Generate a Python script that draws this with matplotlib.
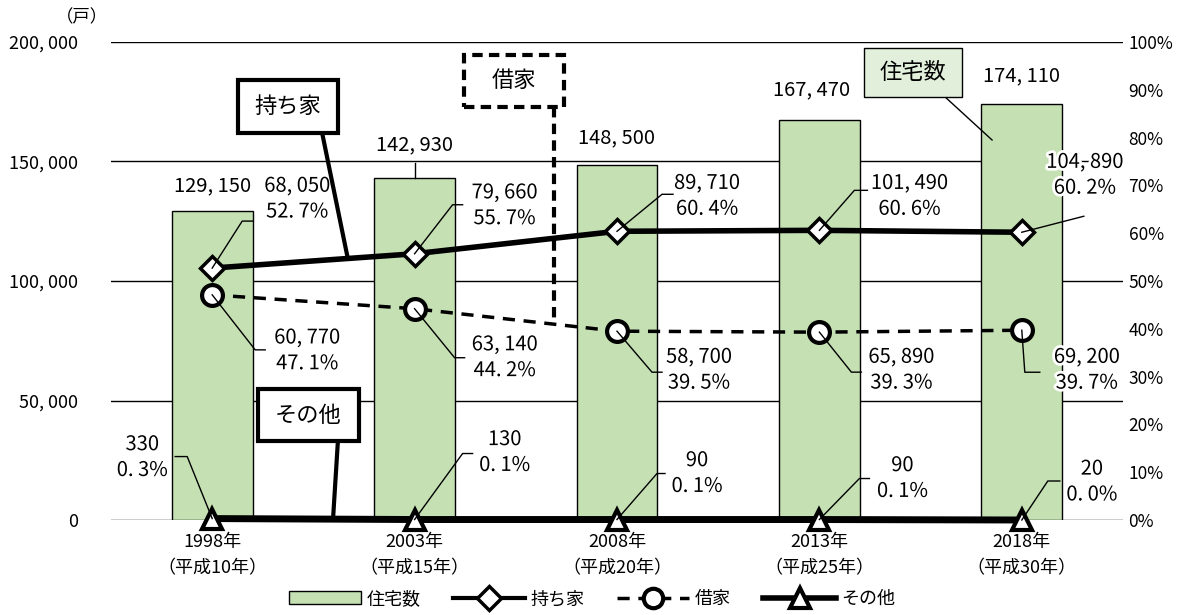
import numpy as np
import matplotlib
matplotlib.use('Agg')
import matplotlib.pyplot as plt
import matplotlib.patheffects as pe
import matplotlib.transforms as mtransforms
from matplotlib.lines import Line2D
from matplotlib.patches import Patch, Rectangle

plt.rcParams['font.family'] = ['Noto Sans CJK JP', 'DejaVu Sans']

# housing survey figures
years = ['1998年\n（平成10年）', '2003年\n（平成15年）', '2008年\n（平成20年）',
         '2013年\n（平成25年）', '2018年\n（平成30年）']
total = [129150, 142930, 148500, 167470, 174110]
owned = [68050, 79660, 89710, 101490, 104890]
owned_pct = [52.7, 55.7, 60.4, 60.6, 60.2]
rented = [60770, 63140, 58700, 65890, 69200]
rented_pct = [47.1, 44.2, 39.5, 39.3, 39.7]
other = [330, 130, 90, 90, 20]
other_pct = [0.3, 0.1, 0.1, 0.1, 0.0]

bar_color = '#c5e0b3'
x = np.arange(len(years))


def fmt_num(v):
    return '{:,}'.format(v).replace(',', ', ')


def fmt_pct(p):
    return '{:.1f}%'.format(p).replace('.', '. ')


halo = [pe.withStroke(linewidth=4, foreground='white')]

fig = plt.figure(figsize=(11.84, 6.15), dpi=100)
ax = fig.add_axes([111 / 1184, 95 / 615, 1012 / 1184, 478 / 615])
ax2 = ax.twinx()

ax.set_xlim(-0.5, 4.5)
ax.set_ylim(0, 200000)
ax2.set_ylim(0, 100)
for a in (ax, ax2):
    for s in a.spines.values():
        s.set_visible(False)

# horizontal grid, drawn behind the bars
for v in range(0, 200001, 50000):
    ax.axhline(v, color='black', lw=1, zorder=0)

ax.bar(x, total, width=0.4, color=bar_color, edgecolor='black', lw=1, zorder=2)

ax.set_xticks(x)
ax.set_xticklabels(years, fontsize=13, linespacing=1.65)
ax.set_yticks(range(0, 200001, 50000))
ax.set_yticklabels([fmt_num(v) for v in range(0, 200001, 50000)], fontsize=13)
ax.tick_params(axis='y', length=0, pad=24)
ax.tick_params(axis='x', length=0, pad=9)
ax2.set_yticks(range(0, 101, 10))
ax2.set_yticklabels(['{}%'.format(v) for v in range(0, 101, 10)], fontsize=12.5)
ax2.tick_params(axis='y', length=0, pad=4)

# totals above the bars
bar_off = [(0, 26), (0, 34), (0, 27), (-8, 30), (0, 28)]
for i, v in enumerate(total):
    ax.annotate(fmt_num(v), xy=(i, v), xytext=bar_off[i], textcoords='offset pixels',
                ha='center', va='center', fontsize=14.5, zorder=5)
ax.plot([0, 0], [0, 15], color='black', lw=1, zorder=3,
        transform=mtransforms.ScaledTranslation(1, total[1], ax.transData))

# lines
ax2.plot(x, owned_pct, color='black', lw=4, marker='D', ms=12, mfc='white',
         mec='black', mew=2.5, zorder=4, clip_on=False)
ax2.plot(x, rented_pct, color='black', lw=2.5, ls=(0, (3.5, 2.5)), marker='o', ms=15,
         mfc='white', mec='black', mew=3, zorder=4, clip_on=False)
ax2.plot(x, other_pct, color='black', lw=5, marker='^', ms=15, mfc='white',
         mec='black', mew=3, zorder=4, clip_on=False)


def point_label(i, y, count, pct, leader, text_off):
    # leader line in pixel offsets from the marker centre
    lx = [0] + [p[0] for p in leader]
    ly = [0] + [p[1] for p in leader]
    ax2.plot(lx, ly, color='black', lw=1, zorder=5, clip_on=False,
             transform=mtransforms.ScaledTranslation(i, y, ax2.transData))
    ax2.annotate(fmt_num(count) + '\n' + fmt_pct(pct), xy=(i, y), xytext=text_off,
                 textcoords='offset pixels', ha='center', va='center', fontsize=14.5,
                 linespacing=1.3, path_effects=halo, zorder=6)


owned_leaders = [[(30, 47), (41, 47)], [(38, 49), (48, 49)], [(45, 37), (56, 37)],
                 [(35, 40), (48, 40)], [(62, 16)]]
owned_text = [(85, 69), (90, 48), (90, 35), (90, 34), (63, 57)]
rented_leaders = [[(43, -55), (53, -55)], [(40, -49), (50, -49)], [(35, -41), (45, -41)],
                  [(32, -40), (42, -40)], [(3, -42), (18, -42)]]
rented_text = [(95, -56), (90, -49), (82, -39), (82, -38), (65, -40)]
other_leaders = [[(-25, 62), (-37, 62)], [(48, 66), (58, 66)], [(40, 46), (48, 46)],
                 [(40, 41), (50, 41)], [(26, 39), (38, 39)]]
other_text = [(-70, 61), (90, 67), (80, 46), (83, 41), (70, 38)]

for i in range(len(years)):
    point_label(i, owned_pct[i], owned[i], owned_pct[i], owned_leaders[i], owned_text[i])
    point_label(i, rented_pct[i], rented[i], rented_pct[i], rented_leaders[i], rented_text[i])
    point_label(i, other_pct[i], other[i], other_pct[i], other_leaders[i], other_text[i])


def callout(text, x0, x1, y0, y1, start, target, lw, ls='-', fc='white'):
    # boxed series name with a leader to its line
    ax2.add_patch(Rectangle((x0, y0), x1 - x0, y1 - y0, fc=fc, ec='black', lw=lw, ls=ls,
                            zorder=7, joinstyle='miter'))
    ax2.text((x0 + x1) / 2, (y0 + y1) / 2, text, ha='center', va='center',
             fontsize=16, zorder=8)
    ax2.plot([start[0], target[0]], [start[1], target[1]], color='black', lw=lw, ls=ls,
             zorder=6)


callout('持ち家', 0.128, 0.622, 81.0, 92.0, (0.543, 81.0),
        (0.67, np.interp(0.67, x, owned_pct)), 3)
callout('借家', 1.244, 1.738, 86.4, 97.3, (1.689, 86.4),
        (1.689, np.interp(1.689, x, rented_pct)), 3, ls=(0, (2.5, 1.5)))
callout('住宅数', 3.220, 3.704, 88.5, 98.7, (3.621, 88.5), (3.853, 79.5), 1, fc='#e2efda')
callout('その他', 0.226, 0.725, 16.5, 27.4, (0.621, 16.5),
        (0.597, np.interp(0.597, x, other_pct)), 3)

fig.text(82 / 1184, 1 - 17 / 615, '（戸）', ha='center', va='center', fontsize=12.5)

handles = [
    Patch(facecolor=bar_color, edgecolor='black', lw=1),
    Line2D([], [], color='black', lw=3, marker='D', ms=12, mfc='white', mec='black', mew=2.5),
    Line2D([], [], color='black', lw=2.5, ls=(0, (3.5, 2.5)), marker='o', ms=14, mfc='white',
           mec='black', mew=3),
    Line2D([], [], color='black', lw=4, marker='^', ms=14, mfc='white', mec='black', mew=3),
]
fig.legend(handles, ['住宅数', '持ち家', '借家', 'その他'], loc='lower center',
           bbox_to_anchor=(0.5, -0.015), ncol=4, frameon=False, fontsize=13,
           handlelength=4, handletextpad=0.3, columnspacing=1.8)

fig.savefig('out.png', dpi=100)
